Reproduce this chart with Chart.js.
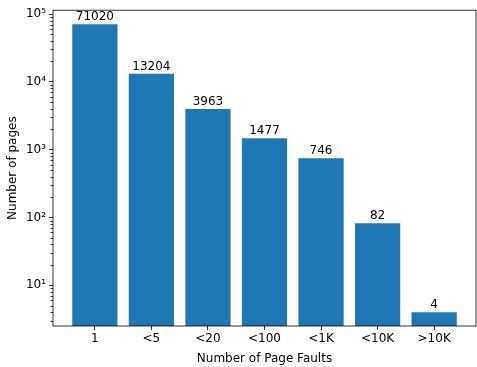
<!DOCTYPE html>
<html>
<head>
<meta charset="utf-8">
<script src="https://cdn.jsdelivr.net/npm/chart.js@4/dist/chart.umd.min.js"></script>
<style>
  html, body { margin: 0; padding: 0; background: #fff; }
  #wrap { width: 477px; height: 367px; }
</style>
</head>
<body>
<div id="wrap"><canvas id="Chart"></canvas></div>
<script>
const categories = ['1', '<5', '<20', '<100', '<1K', '<10K', '>10K']
const pages = [71020, 13204, 3963, 1477, 746, 82, 4]
const yMajorTicks = [10, 100, 1000, 10000, 100000]
const supers = {'1': '\u00b9', '2': '\u00b2', '3': '\u00b3', '4': '\u2074', '5': '\u2075'}

const font = 'DejaVu Sans'

// value labels above bars
const barLabels = {
    id: 'barLabels',
    afterDatasetsDraw(chart) {
        const ctx = chart.ctx
        const meta = chart.getDatasetMeta(0)
        ctx.save()
        ctx.font = '12px "' + font + '"'
        ctx.fillStyle = '#000'
        ctx.textAlign = 'center'
        ctx.textBaseline = 'bottom'
        meta.data.forEach((bar, i) => {
            ctx.fillText(String(pages[i]), bar.x, bar.y - 1)
        })
        ctx.restore()
    }
}

// frame + minor log ticks
const frame = {
    id: 'frame',
    afterDraw(chart) {
        const ctx = chart.ctx
        const a = chart.chartArea
        const y = chart.scales.y
        ctx.save()
        ctx.strokeStyle = '#000'
        ctx.lineWidth = 0.8
        ctx.strokeRect(a.left, a.top, a.right - a.left, a.bottom - a.top)
        ctx.beginPath()
        for (let d = 0; d <= 5; d++) {
            for (let k = 2; k <= 9; k++) {
                const v = k * Math.pow(10, d)
                if (v < y.min || v > y.max) continue
                const py = Math.round(y.getPixelForValue(v)) + 0.5
                ctx.moveTo(a.left - 2.5, py)
                ctx.lineTo(a.left, py)
            }
        }
        ctx.stroke()
        ctx.restore()
    }
}

const ctx = document.getElementById('Chart')

new Chart(ctx, {
    type: 'bar',
    data: {
        datasets: [{
            data: pages.map((v, i) => ({x: i, y: v})),
            backgroundColor: '#1f77b4',
            borderWidth: 0,
            barPercentage: 0.8,
            categoryPercentage: 1.0
        }]
    },
    options: {
        animation: false,
        responsive: true,
        maintainAspectRatio: false,
        layout: {padding: {top: 8, right: 1, left: 6, bottom: 0}},
        plugins: {legend: {display: false}, tooltip: {enabled: false}},
        scales: {
            x: {
                type: 'linear',
                offset: false,
                min: -0.74,
                max: 6.74,
                afterBuildTicks: s => { s.ticks = categories.map((c, i) => ({value: i})) },
                afterFit: s => { s.height = 41 },
                ticks: {
                    autoSkip: false,
                    maxRotation: 0,
                    color: '#000',
                    padding: 2,
                    font: {family: font, size: 12},
                    callback: v => categories[v]
                },
                grid: {offset: false, drawOnChartArea: false, tickLength: 4, color: '#000', tickWidth: 0.8},
                border: {display: false},
                title: {
                    display: true,
                    text: 'Number of Page Faults',
                    color: '#000',
                    font: {family: font, size: 12},
                    padding: {top: 0, bottom: 1}
                }
            },
            y: {
                type: 'logarithmic',
                min: 2.5,
                max: 114000,
                afterBuildTicks: s => { s.ticks = yMajorTicks.map(v => ({value: v})) },
                afterFit: s => { s.width = 47 },
                ticks: {
                    color: '#000',
                    padding: 3,
                    font: {family: font, size: 12},
                    callback: v => '10' + supers[String(Math.round(Math.log10(v)))]
                },
                grid: {drawOnChartArea: false, tickLength: 4, color: '#000', tickWidth: 0.8},
                border: {display: false},
                title: {
                    display: true,
                    text: 'Number of pages',
                    color: '#000',
                    font: {family: font, size: 12},
                    padding: {top: 0, bottom: 2}
                }
            }
        }
    },
    plugins: [barLabels, frame]
})
</script>
</body>
</html>
